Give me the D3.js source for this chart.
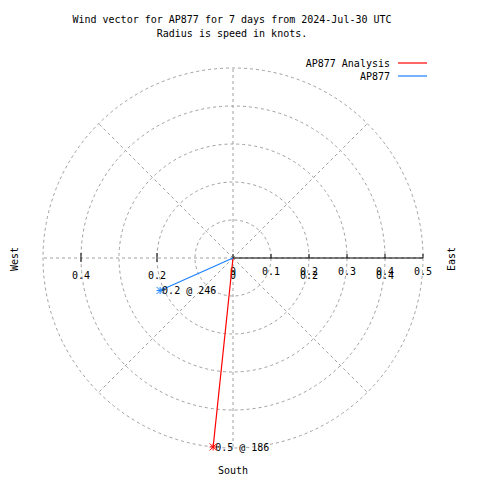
<!DOCTYPE html>
<html><head><meta charset="utf-8">
<script src="https://cdn.jsdelivr.net/npm/d3@7/dist/d3.min.js"></script>
<style>body{margin:0;background:#fff}svg text{font-family:"DejaVu Sans Mono",monospace;font-size:10px;fill:#000}</style>
</head><body><svg id="c" width="480" height="480"></svg>
<script>
const titleLines = ["Wind vector for AP877 for 7 days from 2024-Jul-30 UTC", "Radius is speed in knots."];
const seriesNames = ["AP877 Analysis", "AP877"];
const seriesColors = ["#ff0000", "#1a80ff"];
const speeds = [0.5, 0.21];
const directions = [186, 246];
const rTicks = [0, 0.1, 0.2, 0.3, 0.4, 0.5];
const gridRings = [0.1, 0.2, 0.3, 0.4, 0.5];
const sideLabels = [-0.4, -0.2, 0, 0.2, 0.4];
const spokes = [0, 45, 90, 135, 180, 225, 270, 315];

const svg = d3.select("#c");
const cx = 233, cy = 258;
const r = d3.scaleLinear().domain([0, 0.5]).range([0, 190]);
const x = d3.scaleLinear().domain([-0.5, 0.5]).range([cx - 190, cx + 190]);
const grey = "#a0a0a0";
const g = svg.append("g");

// grid rings
g.selectAll("circle.ring").data(gridRings).join("circle")
  .attr("cx", cx).attr("cy", cy).attr("r", d => r(d))
  .attr("fill", "none").attr("stroke", grey).attr("stroke-dasharray", "3,3");
// spokes
g.selectAll("line.spoke").data(spokes).join("line")
  .attr("x1", cx).attr("y1", cy)
  .attr("x2", d => cx + r(0.5) * Math.sin(d * Math.PI / 180))
  .attr("y2", d => cy - r(0.5) * Math.cos(d * Math.PI / 180))
  .attr("stroke", grey).attr("stroke-dasharray", "3,3");

// east axis (solid)
g.append("line").attr("x1", x(0)).attr("x2", x(0.5)).attr("y1", cy).attr("y2", cy)
  .attr("stroke", "#000");
g.selectAll("line.tk").data(rTicks).join("line")
  .attr("x1", d => x(d)).attr("x2", d => x(d)).attr("y1", cy).attr("y2", cy - 4)
  .attr("stroke", "#000");
g.selectAll("text.tk").data(rTicks).join("text")
  .attr("x", d => x(d)).attr("y", cy + 17).attr("text-anchor", "middle")
  .text(d => d3.format("")(d));
// west side ticks and labels
g.selectAll("line.wt").data(sideLabels.filter(d => d < 0)).join("line")
  .attr("x1", d => x(d)).attr("x2", d => x(d)).attr("y1", cy - 5).attr("y2", cy + 4)
  .attr("stroke", "#000");
g.selectAll("text.sl").data(sideLabels).join("text")
  .attr("x", d => x(d)).attr("y", cy + 21).attr("text-anchor", "middle")
  .text(d => d3.format("")(Math.abs(d)));

// compass labels
svg.append("text").attr("x", cx).attr("y", 474).attr("text-anchor", "middle").text("South");
svg.append("text").attr("transform", "translate(18,259) rotate(-90)").attr("text-anchor", "middle").text("West");
svg.append("text").attr("transform", "translate(455,259) rotate(-90)").attr("text-anchor", "middle").text("East");

// title
svg.selectAll("text.title").data(titleLines).join("text")
  .attr("x", 232).attr("y", (d, i) => 23 + i * 14).attr("text-anchor", "middle").text(d => d);

// vectors
const pts = speeds.map((s, i) => ({
  s, d: directions[i], c: seriesColors[i],
  px: cx + r(s) * Math.sin(directions[i] * Math.PI / 180),
  py: cy - r(s) * Math.cos(directions[i] * Math.PI / 180)
}));
const vg = svg.append("g");
vg.selectAll("line.vec").data(pts).join("line")
  .attr("x1", cx).attr("y1", cy).attr("x2", d => d.px).attr("y2", d => d.py)
  .attr("stroke", d => d.c).attr("stroke-width", 1.2);
const star = d3.symbol().type(d3.symbolAsterisk || d3.symbolCross);
pts.forEach(p => {
  const s = 3.5;
  [[-s,0,s,0],[0,-s,0,s],[-s,-s,s,s],[-s,s,s,-s]].forEach(a => {
    vg.append("line").attr("x1", p.px + a[0]).attr("y1", p.py + a[1])
      .attr("x2", p.px + a[2]).attr("y2", p.py + a[3]).attr("stroke", p.c);
  });
  vg.append("text").attr("x", p.px + 2).attr("y", p.py + 4)
    .text(d3.format(".1f")(p.s) + " @ " + p.d);
});

// legend
const lg = svg.append("g");
seriesNames.forEach((n, i) => {
  const y = 67 + i * 13;
  lg.append("text").attr("x", 390).attr("y", y).attr("text-anchor", "end").text(n);
  lg.append("line").attr("x1", 398).attr("x2", 427).attr("y1", y - 4).attr("y2", y - 4)
    .attr("stroke", seriesColors[i]).attr("stroke-width", 1.2);
});
</script></body></html>
